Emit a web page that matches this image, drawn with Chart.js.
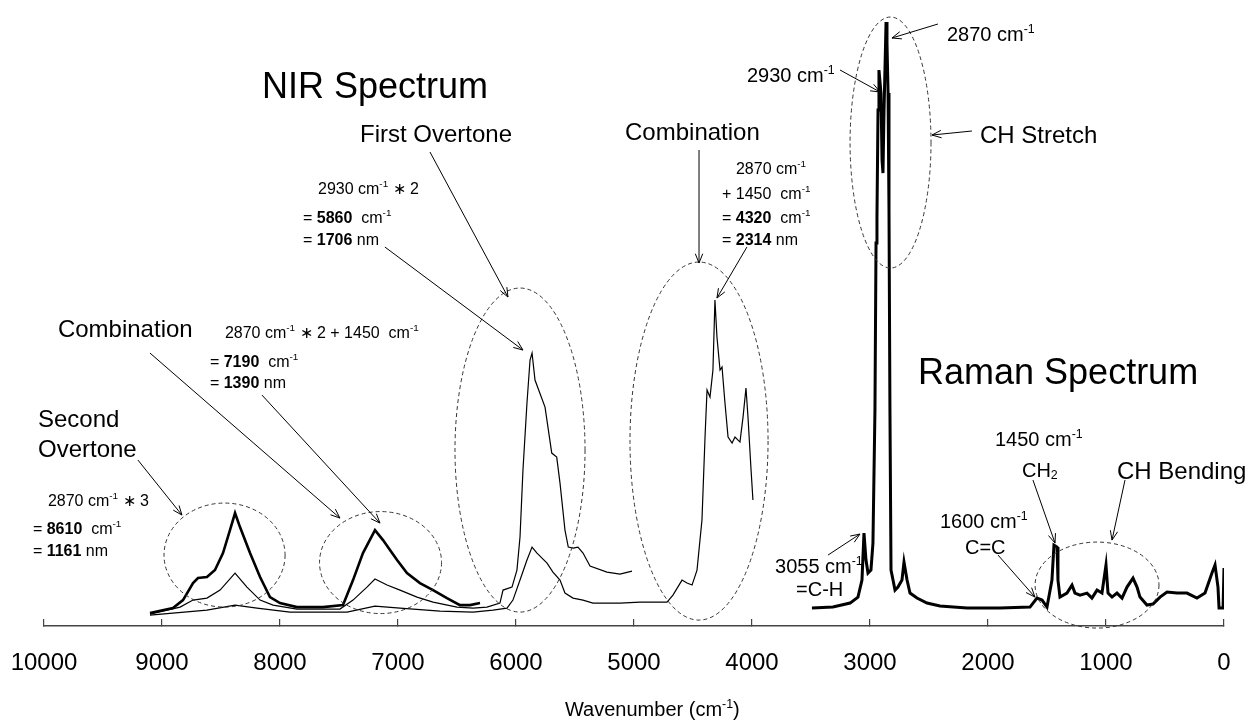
<!DOCTYPE html>
<html lang="en">
<head>
    <meta charset="UTF-8">
    <title>NIR and Raman Spectrum</title>
    <script src="https://cdn.jsdelivr.net/npm/chart.js"></script>
    <style>
        html, body { margin: 0; padding: 0; background: #fff; }
        canvas { display: block; }
    </style>
</head>
<body>
    <canvas id="spectrum" width="1252" height="722"></canvas>

    <script>
        const FONT = '"Liberation Sans", Arial, Helvetica, sans-serif';

        // x axis ticks (wavenumber, cm-1)
        const xTicks = [10000, 9000, 8000, 7000, 6000, 5000, 4000, 3000, 2000, 1000, 0];

        // NIR spectrum, bold trace (second overtone + combination band)
        const nirBoldWave = [9102, 8907, 8822, 8737, 8695, 8619, 8551, 8483, 8424, 8381, 8339, 8254, 8169, 8085, 8000, 7856, 7636, 7466, 7381, 7297, 7195, 7127, 7068, 7008, 6924, 6814, 6703, 6585, 6475, 6390, 6305];
        const nirBoldInt  = [13, 18, 26, 43, 48, 49, 56, 73, 96, 113, 99, 73, 49, 29, 23, 19, 19, 21, 46, 73, 96, 86, 76, 66, 53, 43, 36, 28, 21, 21, 23];

        // NIR spectrum, middle trace (runs through the first overtone)
        const nirMidWave = [9102, 8847, 8737, 8619, 8508, 8381, 8280, 8169, 8059, 7856, 7492, 7381, 7263, 7195, 7093, 6983, 6839, 6703, 6500, 6364, 6246, 6136, 6110, 6034, 5992, 5966, 5941, 5907, 5881, 5864, 5839, 5754, 5697, 5655, 5627, 5585, 5557, 5515, 5475, 5432, 5373, 5229, 5119, 5017];
        const nirMidInt  = [12, 19, 26, 28, 36, 53, 39, 26, 21, 17, 17, 26, 39, 47, 41, 36, 29, 24, 19, 18, 19, 23, 36, 39, 56, 89, 156, 223, 266, 273, 246, 219, 173, 169, 143, 96, 79, 78, 79, 73, 60, 54, 52, 55];

        // NIR spectrum, thin trace (down to the 4320 combination band)
        const nirThinWave = [9102, 8619, 8381, 8195, 7915, 7432, 7195, 6983, 6644, 6364, 6195, 6076, 6026, 5966, 5907, 5864, 5822, 5737, 5687, 5627, 5585, 5517, 5432, 5348, 5119, 4949, 4720, 4670, 4593, 4551, 4508, 4466, 4424, 4398, 4381, 4356, 4331, 4314, 4297, 4271, 4254, 4229, 4203, 4169, 4144, 4102, 4076, 4051, 4034, 4008, 3992];
        const nirThinInt  = [11, 16, 21, 18, 14, 14, 20, 18, 15, 14, 16, 18, 26, 46, 66, 79, 73, 63, 54, 46, 33, 28, 26, 23, 23, 24, 24, 31, 46, 43, 41, 56, 106, 189, 236, 229, 256, 326, 289, 256, 259, 223, 189, 183, 189, 184, 209, 238, 209, 156, 126];

        // Raman spectrum
        const ramanWave = [3492, 3314, 3169, 3102, 3068, 3051, 3034, 3017, 2992, 2975, 2958, 2949, 2941, 2932, 2924, 2907, 2898, 2890, 2881, 2864, 2856, 2847, 2839, 2831, 2822, 2805, 2788, 2763, 2729, 2712, 2686, 2661, 2602, 2517, 2407, 2178, 1898, 1644, 1585, 1542, 1500, 1458, 1441, 1415, 1407, 1390, 1331, 1288, 1263, 1220, 1161, 1119, 1076, 1034, 1000, 983, 949, 907, 864, 822, 771, 737, 712, 653, 602, 542, 483, 398, 314, 229, 161, 102, 76, 51, 42, 8, 0];
        const ramanInt  = [18, 19, 23, 29, 46, 93, 66, 53, 56, 83, 216, 383, 409, 516, 556, 533, 466, 453, 516, 604, 583, 533, 416, 216, 56, 46, 36, 39, 46, 64, 46, 33, 28, 23, 20, 18, 18, 19, 28, 26, 19, 46, 81, 79, 46, 29, 33, 41, 33, 31, 33, 28, 36, 33, 61, 33, 29, 33, 28, 39, 48, 39, 29, 21, 22, 29, 34, 33, 33, 28, 33, 53, 61, 39, 18, 18, 58];

        // dashed ellipses: centre wavenumber, centre intensity, half width (cm-1), half height
        const ellipses = [
            [8470, 71, 513, 52],
            [7148, 63.5, 517, 51],
            [5966, 176, 551, 162],
            [4449, 185, 585, 179],
            [2826, 483.5, 343, 125.5],
            [1076, 41, 525, 43]
        ];

        // arrows: from (wavenumber, intensity) to (wavenumber, intensity)
        const arrows = [
            [9204, 166, 8831, 111],
            [9102, 273, 7492, 108],
            [8153, 231, 7153, 103],
            [6729, 474, 6068, 329],
            [7111, 379, 5941, 276],
            [4449, 476, 4449, 363],
            [4043, 379, 4297, 328],
            [3254, 556, 2915, 534],
            [2424, 602, 2814, 588],
            [2136, 495, 2475, 491],
            [3356, 71, 3085, 92],
            [1915, 71, 1602, 29],
            [1619, 146, 1432, 83],
            [839, 146, 949, 86]
        ];

        // labels: left wavenumber, baseline intensity, font size, parts ('b' bold, '^' sup, '_' sub)
        const notes = [
            [8153, 528, 36, [['NIR Spectrum']]],
            [2593, 242, 36, [['Raman Spectrum']]],
            [7322, 484, 24, [['First Overtone']]],
            [9882, 289, 24, [['Combination']]],
            [5076, 486, 24, [['Combination']]],
            [10051, 199, 24, [['Second']]],
            [10051, 169, 24, [['Overtone']]],
            [2068, 483, 24, [['CH Stretch']]],
            [907, 147, 24, [['CH Bending']]],
            [2348, 585, 20, [['2870 cm'], ['-1', '^']]],
            [4043, 544, 20, [['2930 cm'], ['-1', '^']]],
            [3805, 53, 20, [['3055 cm'], ['-1', '^']]],
            [3627, 30, 20, [['=C-H']]],
            [2407, 98, 20, [['1600 cm'], ['-1', '^']]],
            [2195, 72, 20, [['C=C']]],
            [1941, 180, 20, [['1450 cm'], ['-1', '^']]],
            [1712, 149, 20, [['CH'], ['2', '_']]],
            [7678, 432, 16, [['2930 cm'], ['-1', '^'], [' \u2217 2']]],
            [7805, 403, 16, [['= '], ['5860', 'b'], ['  cm'], ['-1', '^']]],
            [7805, 381, 16, [['= '], ['1706', 'b'], [' nm']]],
            [8467, 288, 16, [['2870 cm'], ['-1', '^'], [' \u2217 2 + 1450  cm'], ['-1', '^']]],
            [8594, 259, 16, [['= '], ['7190', 'b'], ['  cm'], ['-1', '^']]],
            [8594, 238, 16, [['= '], ['1390', 'b'], [' nm']]],
            [9967, 120, 16, [['2870 cm'], ['-1', '^'], [' \u2217 3']]],
            [10094, 92, 16, [['= '], ['8610', 'b'], ['  cm'], ['-1', '^']]],
            [10094, 70, 16, [['= '], ['1161', 'b'], [' nm']]],
            [4136, 452, 16, [['2870 cm'], ['-1', '^']]],
            [4254, 427, 16, [['+ 1450  cm'], ['-1', '^']]],
            [4254, 403, 16, [['= '], ['4320', 'b'], ['  cm'], ['-1', '^']]],
            [4254, 381, 16, [['= '], ['2314', 'b'], [' nm']]],
            [5585, -90, 20, [['Wavenumber (cm'], ['-1', '^'], [')']]]
        ];

        const toPoints = (xs, ys) => xs.map((x, i) => ({ x: x, y: ys[i] }));

        function drawRich(ctx, x, y, size, parts) {
            let cx = x;
            for (const [text, kind] of parts) {
                let fs = size, dy = 0, weight = '';
                if (kind === '^') { fs = size * 0.62; dy = -size * 0.42; }
                if (kind === '_') { fs = size * 0.62; dy = size * 0.12; }
                if (kind === 'b') weight = 'bold ';
                ctx.font = weight + fs + 'px ' + FONT;
                ctx.fillText(text, cx, y + dy);
                cx += ctx.measureText(text).width;
            }
        }

        function drawArrow(ctx, x1, y1, x2, y2) {
            const a = Math.atan2(y2 - y1, x2 - x1);
            const len = 10, spread = 0.38;
            ctx.beginPath();
            ctx.moveTo(x1, y1);
            ctx.lineTo(x2, y2);
            ctx.moveTo(x2 - len * Math.cos(a - spread), y2 - len * Math.sin(a - spread));
            ctx.lineTo(x2, y2);
            ctx.lineTo(x2 - len * Math.cos(a + spread), y2 - len * Math.sin(a + spread));
            ctx.stroke();
        }

        // annotations placed through the chart's own scales
        const notesPlugin = {
            id: 'notes',
            afterDraw(chart) {
                const { ctx, scales: { x, y } } = chart;
                const px = w => x.getPixelForValue(w);
                const py = v => y.getPixelForValue(v);
                ctx.save();

                ctx.strokeStyle = '#333';
                ctx.lineWidth = 1;
                ctx.setLineDash([4, 3]);
                for (const [cw, cv, rw, rv] of ellipses) {
                    const cx = px(cw), cy = py(cv);
                    const rx = Math.abs(px(cw + rw) - cx), ry = Math.abs(py(cv + rv) - cy);
                    ctx.beginPath();
                    ctx.ellipse(cx, cy, rx, ry, 0, 0, Math.PI * 2);
                    ctx.stroke();
                }

                ctx.setLineDash([]);
                ctx.strokeStyle = '#000';
                for (const [w1, v1, w2, v2] of arrows) {
                    drawArrow(ctx, px(w1), py(v1), px(w2), py(v2));
                }

                ctx.fillStyle = '#000';
                ctx.textAlign = 'left';
                ctx.textBaseline = 'alphabetic';
                for (const [w, v, size, parts] of notes) {
                    drawRich(ctx, px(w), py(v), size, parts);
                }
                ctx.restore();
            }
        };

        const line = (pts, width) => ({
            data: pts,
            borderColor: '#000',
            borderWidth: width,
            pointRadius: 0,
            tension: 0,
            fill: false
        });

        new Chart(document.getElementById('spectrum'), {
            type: 'line',
            data: {
                datasets: [
                    line(toPoints(nirThinWave, nirThinInt), 1.2),
                    line(toPoints(nirMidWave, nirMidInt), 1.2),
                    line(toPoints(nirBoldWave, nirBoldInt), 2.6),
                    line(toPoints(ramanWave, ramanInt), 3)
                ]
            },
            options: {
                responsive: false,
                animation: false,
                devicePixelRatio: 1,
                layout: { padding: { left: 44, right: 28, top: 15, bottom: 15 } },
                plugins: { legend: { display: false }, tooltip: { enabled: false } },
                scales: {
                    x: {
                        type: 'linear',
                        reverse: true,
                        min: 0,
                        max: 10000,
                        afterBuildTicks: scale => { scale.ticks = xTicks.map(v => ({ value: v })); },
                        grid: { drawOnChartArea: false, drawTicks: true, tickLength: -7, color: '#444', lineWidth: 1.2 },
                        border: { display: true, color: '#444', width: 1.5 },
                        ticks: {
                            autoSkip: false,
                            maxRotation: 0,
                            padding: 10,
                            color: '#000',
                            font: { family: FONT, size: 24, lineHeight: 2.83 },
                            callback: v => String(v)
                        }
                    },
                    y: { display: false, min: 0, max: 611 }
                }
            },
            plugins: [notesPlugin]
        });
    </script>
</body>
</html>
